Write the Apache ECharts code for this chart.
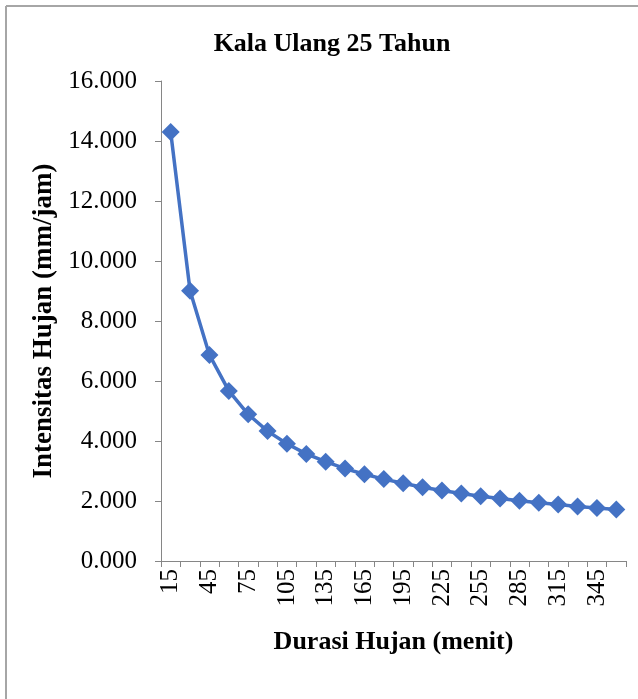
<!DOCTYPE html>
<html>
<head>
<meta charset="utf-8">
<script src="https://cdn.jsdelivr.net/npm/echarts@6/dist/echarts.min.js"></script>
<style>
html,body{margin:0;padding:0;background:#fff;}
#c{width:638px;height:699px;}
</style>
</head>
<body>
<div id="c"></div>
<script>
var titleText = "Kala Ulang 25 Tahun";
var xAxisName = "Durasi Hujan (menit)";
var yAxisName = "Intensitas Hujan (mm/jam)";
var durations = ["15","30","45","60","75","90","105","120","135","150","165","180","195","210","225","240","255","270","285","300","315","330","345","360"];
var intensities = [14.30, 9.01, 6.87, 5.67, 4.89, 4.33, 3.91, 3.57, 3.31, 3.08, 2.89, 2.73, 2.59, 2.46, 2.35, 2.25, 2.16, 2.08, 2.01, 1.94, 1.88, 1.82, 1.77, 1.72];
var yMin = 0, yMax = 16, yStep = 2;

var chart = echarts.init(document.getElementById('c'), null, {renderer:'canvas'});
var serif = '"Liberation Serif", "Times New Roman", serif';
chart.setOption({
  animation: false,
  backgroundColor: '#ffffff',
  title: {
    text: titleText,
    left: 327, top: 26, textAlign: 'center',
    textStyle: {fontFamily: serif, fontWeight: 'bold', fontSize: 26, color: '#000'}
  },
  graphic: [
    {type:'line', shape:{x1:6, y1:6, x2:6, y2:699}, style:{stroke:'#a6a6a6', lineWidth:2}},
    {type:'line', shape:{x1:6, y1:6, x2:638, y2:6}, style:{stroke:'#a6a6a6', lineWidth:2}}
  ],
  grid: {left: 161, top: 81, width: 465, height: 480},
  xAxis: {
    type: 'category',
    data: durations,
    boundaryGap: true,
    name: xAxisName,
    nameLocation: 'middle',
    nameGap: 68,
    nameTextStyle: {fontFamily: serif, fontWeight: 'bold', fontSize: 26, color: '#000'},
    axisLine: {lineStyle: {color: '#868686', width: 1}},
    axisTick: {show: true, alignWithLabel: false, interval: 0, length: 6, lineStyle: {color: '#868686'}},
    axisLabel: {interval: 1, rotate: 90, margin: 8, fontFamily: serif, fontSize: 25, color: '#000'},
    splitLine: {show: false}
  },
  yAxis: {
    type: 'value',
    min: yMin, max: yMax, interval: yStep,
    name: yAxisName,
    nameLocation: 'middle',
    nameGap: 103,
    nameRotate: 90,
    nameTextStyle: {fontFamily: serif, fontWeight: 'bold', fontSize: 27, color: '#000'},
    axisLine: {show: true, lineStyle: {color: '#868686', width: 1}},
    axisTick: {show: true, length: 6, lineStyle: {color: '#868686'}},
    axisLabel: {margin: 24, fontFamily: serif, fontSize: 25, color: '#000',
      formatter: function(v){ return v.toFixed(3); }},
    splitLine: {show: false}
  },
  series: [{
    type: 'line',
    data: intensities,
    symbol: 'diamond',
    symbolSize: 18,
    showAllSymbol: true,
    lineStyle: {color: '#4472C4', width: 3.5},
    itemStyle: {color: '#4472C4'}
  }]
});
</script>
</body>
</html>
